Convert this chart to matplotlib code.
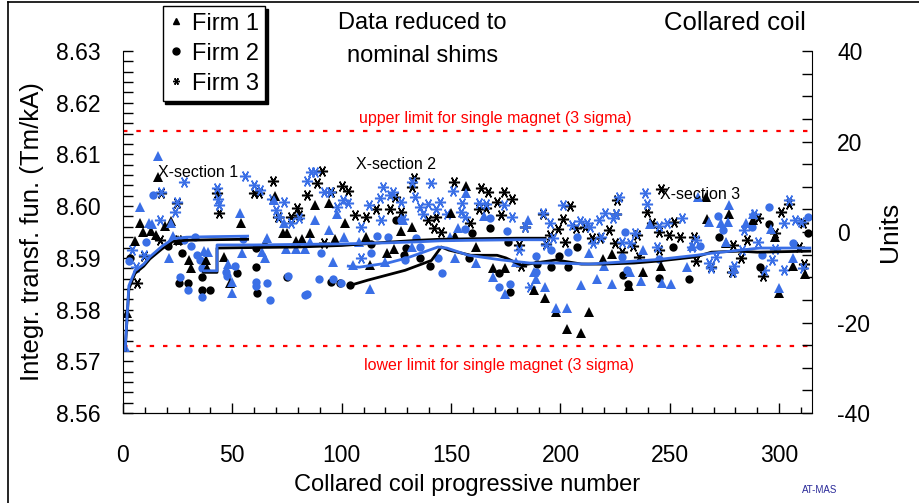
import matplotlib
matplotlib.use("Agg")
import matplotlib.pyplot as plt
from matplotlib.ticker import MultipleLocator, FormatStrFormatter
from matplotlib.lines import Line2D

plt.rcParams['font.family'] = ['Liberation Sans', 'DejaVu Sans']
plt.rcParams['axes.unicode_minus'] = False

BLUE = '#3a6fe6'

# Firm 1 (triangles), black and blue sets
f1k_x = [2, 5.5, 8, 9, 13, 15, 16, 19, 22, 25, 30, 31, 38, 38.6, 46, 49, 54, 65, 69.5, 73, 75, 79, 82,
         85.5, 88, 94, 97, 101.5, 111, 113, 120.5, 123.7, 127, 132, 150, 152, 157, 161.6, 169, 174.5,
         188, 193, 198, 203, 209.6, 213, 219.5, 223.6, 231.4, 237.7, 246, 266.4, 267, 275.5, 277, 288,
         298, 300, 306.4, 312]
f1k_y = [8.5793, 8.5933, 8.5967, 8.5950, 8.5952, 8.5944, 8.6056, 8.5961, 8.5971, 8.5935, 8.5896, 8.5880,
         8.5896, 8.5880, 8.5902, 8.5851, 8.5967, 8.5929, 8.6020, 8.5948, 8.5948, 8.5933, 8.5936, 8.5948,
         8.6002, 8.6006, 8.5936, 8.5967, 8.5940, 8.5886, 8.5909, 8.5917, 8.5952, 8.5960, 8.5987, 8.5942,
         8.6039, 8.5921, 8.5880, 8.5880, 8.5838, 8.5822, 8.5795, 8.5762, 8.5755, 8.5795, 8.5898, 8.5907,
         8.5846, 8.5873, 8.5884, 8.6018, 8.5975, 8.5929, 8.5985, 8.5973, 8.5940, 8.5832, 8.5884, 8.5869]

f1b_x = [1, 8, 12, 13.5, 15.9, 21, 22, 23, 37, 39, 48, 50, 50, 53.6, 54.5, 63.6, 65, 66, 69, 73.5, 74.5,
         79, 83, 85.5, 88, 94, 96, 98, 101, 105, 108, 113, 120, 128, 132, 149.5, 151.8, 153, 157, 161.6,
         165, 169, 174.5, 179.5, 185, 187.7, 188.6, 193, 198, 203, 209.6, 213, 216.8, 220, 223.6, 232,
         237, 237.7, 241, 246.4, 250.5, 258, 260, 263, 267.7, 273.6, 275.5, 276.8, 277, 285, 288, 296.4,
         300, 306.4]
f1b_y = [8.5728, 8.5998, 8.5967, 8.5965, 8.6097, 8.5900, 8.5967, 8.5942, 8.5913, 8.5911, 8.5888, 8.5853,
         8.5832, 8.5987, 8.5909, 8.5911, 8.5900, 8.5938, 8.6012, 8.5967, 8.5917, 8.5917, 8.5917, 8.5931,
         8.5973, 8.5954, 8.5892, 8.5985, 8.5940, 8.5886, 8.5931, 8.5840, 8.5892, 8.5973, 8.5921, 8.5940,
         8.5900, 8.5958, 8.6025, 8.5890, 8.5981, 8.5863, 8.5830, 8.5892, 8.5973, 8.5873, 8.5859, 8.5844,
         8.5803, 8.5803, 8.5847, 8.5909, 8.5859, 8.5884, 8.5849, 8.5873, 8.5855, 8.5915, 8.5965, 8.5851,
         8.5849, 8.5882, 8.5923, 8.6018, 8.5969, 8.5967, 8.5931, 8.5969, 8.6002, 8.5967, 8.5985, 8.5956,
         8.5842, 8.5900]

# Firm 2 (circles)
f2k_x = [3, 20.6, 25.5, 27, 29.6, 36, 36, 40, 52, 61, 61, 61.5, 75, 95, 99, 104, 113.6, 125, 128.6, 129.5,
         136, 140.5, 158, 159.5, 168, 172, 176, 177, 189.5, 195.5, 199.5, 203.6, 207.7, 228.6, 231, 245,
         251.4, 258.6, 272.7, 291, 295.5, 313]
f2k_y = [8.5900, 8.5923, 8.5851, 8.5909, 8.5851, 8.5863, 8.5838, 8.5838, 8.5871, 8.5919, 8.5882, 8.5832,
         8.5863, 8.5853, 8.5851, 8.5847, 8.5927, 8.5973, 8.5905, 8.5919, 8.5900, 8.5884, 8.5900, 8.5948,
         8.5958, 8.5871, 8.5931, 8.5834, 8.5888, 8.5882, 8.5904, 8.5882, 8.5921, 8.5867, 8.5849, 8.5861,
         8.5921, 8.5859, 8.5940, 8.5882, 8.5965, 8.5948]

f2b_x = [2.7, 10.5, 13.8, 26, 28, 29.6, 31, 33, 34, 35, 36, 36, 47, 47.5, 51, 55, 61, 61, 66, 67, 75.5,
         83, 84, 89.5, 90.5, 96, 99.5, 113.6, 116, 121, 127, 129, 134, 136, 144, 146, 156.5, 167.7, 172,
         175.5, 177, 188.6, 188.6, 195.5, 203.6, 207.7, 228, 229.5, 230.5, 245, 263.6, 272, 274.5, 287.7,
         292, 295.4, 306.4, 313]
f2b_y = [8.5894, 8.5931, 8.6022, 8.5863, 8.5935, 8.5838, 8.5923, 8.5940, 8.5905, 8.5896, 8.5880, 8.5824,
         8.5873, 8.5865, 8.5884, 8.5937, 8.5853, 8.5846, 8.5851, 8.5818, 8.5865, 8.5828, 8.5830, 8.5859,
         8.5909, 8.5859, 8.5851, 8.5909, 8.5942, 8.5940, 8.5973, 8.5896, 8.5938, 8.5921, 8.5900, 8.5871,
         8.5956, 8.5977, 8.5844, 8.5952, 8.5849, 8.5904, 8.5873, 8.5915, 8.5911, 8.5940, 8.5902, 8.5950,
         8.5876, 8.5898, 8.5923, 8.5981, 8.5954, 8.5960, 8.5905, 8.5998, 8.5929, 8.5979]

# Firm 3 (asterisks)
f3k_x = [6.2, 9.5, 17, 17.6, 24.7, 25, 43, 44, 60, 62, 68.6, 71, 77, 79.5, 80.5, 84, 88.6, 91, 92, 95, 100,
         103, 106, 111, 115.6, 122, 124.5, 127, 132, 133, 139.5, 142, 143, 145.5, 151.5, 158.6, 162.7,
         163.6, 166, 167, 171, 173, 174, 178, 181, 182, 184, 192, 193.6, 195, 199, 201, 202, 204.5, 207,
         211, 214.5, 218, 222, 225, 225.5, 226, 228, 233, 235, 236, 239.5, 242, 245, 245, 245.8, 249.5,
         252, 254.5, 261, 262, 269, 278.6, 279, 282.7, 285.5, 290.4, 292.7, 298, 301, 304.5, 309, 311,
         311.4]
f3k_y = [8.5851, 8.5903, 8.5935, 8.6025, 8.6006, 8.5935, 8.6025, 8.5987, 8.6025, 8.6025, 8.6049, 8.5979,
         8.5979, 8.5996, 8.5983, 8.6022, 8.6045, 8.6068, 8.5929, 8.6027, 8.6039, 8.6029, 8.5983, 8.5979,
         8.5994, 8.5994, 8.6018, 8.5989, 8.6037, 8.6054, 8.5973, 8.5958, 8.5979, 8.5950, 8.6047, 8.5967,
         8.5994, 8.6035, 8.5996, 8.6027, 8.6008, 8.5983, 8.6027, 8.6014, 8.5925, 8.5884, 8.5960, 8.5985,
         8.5927, 8.5944, 8.5956, 8.5975, 8.5931, 8.6000, 8.5958, 8.5960, 8.5938, 8.5938, 8.5954, 8.5929,
         8.5985, 8.6012, 8.5911, 8.5923, 8.5944, 8.5902, 8.5989, 8.5967, 8.5950, 8.5915, 8.6033, 8.5944,
         8.5969, 8.5940, 8.5940, 8.5894, 8.5882, 8.5873, 8.5925, 8.5900, 8.5935, 8.5977, 8.5865, 8.5948,
         8.5989, 8.6004, 8.5921, 8.5967, 8.5888]

f3b_x = [4.3, 6, 9.5, 17, 17.6, 23.6, 24.5, 27.7, 43, 43.5, 44, 56, 60, 62.7, 68, 70, 71.5, 73.6, 77, 80.5,
         84, 86, 88, 92, 94.5, 98, 100.6, 103, 108.6, 109, 112.7, 117.7, 118, 119, 122, 123.6, 127, 128,
         132, 133.6, 136, 137, 139.5, 141, 143, 145, 148, 151, 154.5, 155, 156.5, 162.7, 166, 174, 178,
         181, 184, 186, 192, 193.6, 195, 196.5, 201, 205.5, 209, 212, 213.6, 215, 217.7, 218.5, 220.5,
         224, 225.4, 226.8, 228, 232, 234, 238.6, 239.5, 244, 245, 248.6, 255.5, 260, 262, 267.7, 269,
         271, 279, 279.5, 283, 284, 288.6, 290.4, 293, 296.6, 298, 302, 302, 304.5, 307, 310, 311]
f3b_y = [8.5915, 8.5882, 8.5905, 8.5973, 8.6027, 8.5989, 8.6008, 8.6047, 8.6035, 8.6014, 8.6002, 8.6058,
         8.6041, 8.6031, 8.6014, 8.5993, 8.5979, 8.6008, 8.5967, 8.5977, 8.6049, 8.6066, 8.6066, 8.6027,
         8.6027, 8.5998, 8.6012, 8.6006, 8.5960, 8.5900, 8.6002, 8.6016, 8.5973, 8.6037, 8.6022, 8.6027,
         8.6008, 8.5975, 8.6047, 8.6018, 8.5998, 8.5985, 8.6004, 8.6045, 8.5994, 8.6008, 8.5985, 8.6029,
         8.5989, 8.6006, 8.5979, 8.6006, 8.6004, 8.6002, 8.5979, 8.5915, 8.5960, 8.5844, 8.5987, 8.5925,
         8.5967, 8.5938, 8.6002, 8.5963, 8.5971, 8.5967, 8.5960, 8.5929, 8.5973, 8.5940, 8.5987, 8.5977,
         8.5985, 8.6018, 8.5931, 8.5929, 8.5948, 8.6025, 8.6004, 8.5921, 8.5962, 8.5967, 8.5977, 8.5921,
         8.5935, 8.5890, 8.5880, 8.5902, 8.5873, 8.5884, 8.5915, 8.5954, 8.5985, 8.5931, 8.5876, 8.5896,
         8.5917, 8.5967, 8.5876, 8.6012, 8.5973, 8.5969, 8.5880]

# running averages
avg1_x = [1, 2.7, 5.5, 9.5, 12.3, 18, 23, 29, 40, 57]
avg1_k = [8.5722, 8.5840, 8.5870, 8.5884, 8.5898, 8.5918, 8.5932, 8.5934, 8.5935, 8.5936]
avg1_b = [8.5722, 8.5846, 8.5875, 8.5888, 8.5902, 8.5923, 8.5937, 8.5940, 8.5941, 8.5942]

avg2_x = [37, 43, 43, 60, 80, 100, 120, 135, 145, 160, 180, 193]
avg2_k = [8.5872, 8.5872, 8.5919, 8.5920, 8.5921, 8.5924, 8.5930, 8.5934, 8.5936, 8.5937, 8.5938, 8.5938]
avg2_b = [8.5875, 8.5875, 8.5925, 8.5925, 8.5926, 8.5927, 8.5929, 8.5931, 8.5933, 8.5934, 8.5935, 8.5935]

avg3k_x = [104, 112, 129, 141, 145.5, 149, 159, 171, 175, 182, 198, 209.6, 220, 233.6, 245, 262, 269, 282,
           290, 314]
avg3k_y = [8.5847, 8.5857, 8.5876, 8.5895, 8.5921, 8.5915, 8.5905, 8.5905, 8.5900, 8.5886, 8.5896, 8.5888,
           8.5888, 8.5890, 8.5894, 8.5902, 8.5911, 8.5913, 8.5911, 8.5913]
avg3b_x = [103, 108, 121, 130, 144, 148, 158, 173, 186, 198, 213, 228, 245, 262, 269, 291, 314]
avg3b_y = [8.5884, 8.5882, 8.5890, 8.5900, 8.5921, 8.5919, 8.5905, 8.5896, 8.5890, 8.5890, 8.5888, 8.5892,
           8.5897, 8.5905, 8.5909, 8.5919, 8.5919]

upper_limit = 8.6145
lower_limit = 8.5730

fig = plt.figure(figsize=(9.19, 5.03), dpi=100)
ax = fig.add_axes([0.1338, 0.1789, 0.7498, 0.7197])

ax.axhline(upper_limit, color='red', lw=1.6, dashes=(2, 4))
ax.axhline(lower_limit, color='red', lw=1.6, dashes=(2, 4))

star = (6, 2, 90)
for xs, ys, c in [(f3k_x, f3k_y, 'black'), (f3b_x, f3b_y, BLUE)]:
    ax.plot(xs, ys, ls='none', marker=star, ms=8, mew=1.1, color=c)
for xs, ys, c in [(f2k_x, f2k_y, 'black'), (f2b_x, f2b_y, BLUE)]:
    ax.plot(xs, ys, ls='none', marker='o', ms=6, mew=0, color=c)
for xs, ys, c in [(f1k_x, f1k_y, 'black'), (f1b_x, f1b_y, BLUE)]:
    ax.plot(xs, ys, ls='none', marker='^', ms=6.5, mew=0, color=c)

ax.plot(avg1_x, avg1_k, color='black', lw=2)
ax.plot(avg1_x, avg1_b, color=BLUE, lw=2)
ax.plot(avg2_x, avg2_k, color='black', lw=2)
ax.plot(avg2_x, avg2_b, color=BLUE, lw=2)
ax.plot(avg3k_x, avg3k_y, color='black', lw=2)
ax.plot(avg3b_x, avg3b_y, color=BLUE, lw=2)

ax.set_xlim(0, 315)
ax.set_ylim(8.56, 8.63)
ax.xaxis.set_major_locator(MultipleLocator(50))
ax.xaxis.set_minor_locator(MultipleLocator(10))
ax.yaxis.set_major_locator(MultipleLocator(0.01))
ax.yaxis.set_minor_locator(MultipleLocator(0.002))
ax.yaxis.set_major_formatter(FormatStrFormatter('%.2f'))
ax.tick_params(axis='y', which='both', direction='in', length=7, width=1, labelsize=16.5, pad=16)
ax.tick_params(axis='x', which='major', direction='in', length=7, width=1, labelsize=16.5, pad=22)
ax.tick_params(axis='x', which='minor', direction='in', length=4, width=1)
ax.spines['top'].set_visible(False)
ax.spines['right'].set_visible(False)

ax.set_xlabel('Collared coil progressive number', fontsize=17, labelpad=5)
ax.set_ylabel('Integr. transf. fun. (Tm/kA)', fontsize=18.5, labelpad=9)

ax2 = ax.twinx()
ax2.set_ylim(-40, 40)
ax2.yaxis.set_major_locator(MultipleLocator(20))
ax2.yaxis.set_minor_locator(MultipleLocator(5))
ax2.tick_params(axis='y', which='both', direction='in', length=7, width=1, labelsize=16.5, pad=18)
ax2.spines['top'].set_visible(False)
ax2.spines['left'].set_visible(False)
ax2.set_ylabel('Units', fontsize=19, labelpad=6)

ax.text(16, 8.6066, 'X-section 1', fontsize=11.5, va='center')
ax.text(106.5, 8.6080, 'X-section 2', fontsize=11.5, va='center')
ax.text(245.5, 8.6023, 'X-section 3', fontsize=11.5, va='center')
ax.text(170, 8.6170, 'upper limit for single magnet (3 sigma)', fontsize=11.5, color='red',
        ha='center', va='center')
ax.text(172, 8.5691, 'lower limit for single magnet (3 sigma)', fontsize=11.5, color='red',
        ha='center', va='center')

fig.text(0.460, 0.954, 'Data reduced to', fontsize=17, ha='center', va='center')
fig.text(0.460, 0.888, 'nominal shims', fontsize=17, ha='center', va='center')
fig.text(0.800, 0.954, 'Collared coil', fontsize=18.5, ha='center', va='center')
fig.text(0.892, 0.025, 'AT-MAS', fontsize=7, color='#2a2a99', ha='center', va='center')

handles = [Line2D([], [], ls='none', marker='^', ms=5, color='black'),
           Line2D([], [], ls='none', marker='o', ms=5, color='black'),
           Line2D([], [], ls='none', marker=star, ms=5, mew=1, color='black')]
leg = fig.legend(handles, ['Firm 1', 'Firm 2', 'Firm 3'], loc='upper left',
                 bbox_to_anchor=(0.177, 0.988), bbox_transform=fig.transFigure, borderaxespad=0,
                 fontsize=17, handlelength=0.6, handletextpad=0.35, labelspacing=0.34,
                 borderpad=0.28, fancybox=False, framealpha=1,
                 shadow={'color': 'black', 'alpha': 1})
leg.get_frame().set_edgecolor('black')
leg.get_frame().set_linewidth(1)

# outer frame on the left and top edges
fig.add_artist(Line2D([0.0087, 0.0087], [0, 0.996], color='black', lw=1.2, transform=fig.transFigure))
fig.add_artist(Line2D([0.0087, 1], [0.996, 0.996], color='black', lw=1.2, transform=fig.transFigure))

fig.savefig('out.png', dpi=100)
